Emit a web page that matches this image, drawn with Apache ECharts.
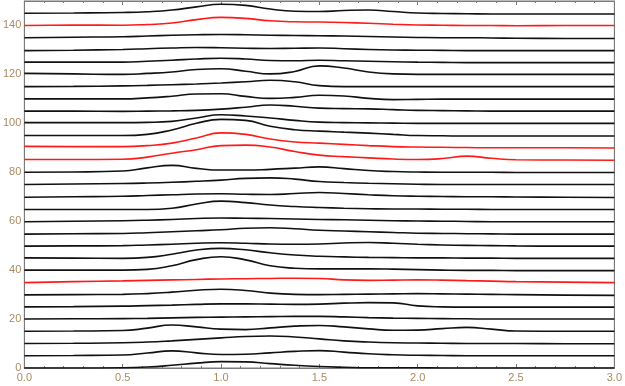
<!DOCTYPE html>
<html>
<head>
<meta charset="utf-8">
<script src="https://cdn.jsdelivr.net/npm/echarts@6/dist/echarts.min.js"></script>
<style>html,body{margin:0;padding:0;background:#fff}#c{width:625px;height:386px}</style>
</head>
<body>
<div id="c"></div>
<script>
const xs = [0, 0.25, 0.5, 0.625, 0.75, 0.875, 1.0, 1.125, 1.25, 1.375, 1.5, 1.625, 1.75, 1.875, 2.0, 2.125, 2.25, 2.375, 2.5, 2.75, 3.0];
const xTicks = [0, 0.5, 1.0, 1.5, 2.0, 2.5, 3.0];
const yTicks = [0, 20, 40, 60, 80, 100, 120, 140];

const y145 = [145, 145.1, 145.3, 145.6, 146.3, 147.6, 148.7, 148.2, 146.7, 145.8, 145.7, 146.1, 146.3, 145.7, 145.1, 144.9, 144.8, 144.7, 144.7, 144.7, 144.7];
const y140 = [140, 140.2, 140.1, 140.4, 141, 142.4, 143.3, 142.9, 141.9, 141.5, 141.4, 141.2, 140.9, 140.5, 140.2, 140.1, 140, 140, 139.9, 140, 140];
const y135 = [135, 135.2, 135.4, 135.7, 136, 136.2, 136.3, 136.2, 136, 135.9, 135.8, 135.7, 135.5, 135.3, 135.1, 135, 135, 134.9, 134.8, 134.7, 134.7];
const y130 = [129.7, 129.9, 130.2, 130.5, 130.8, 131, 130.9, 130.7, 130.6, 130.7, 130.8, 130.5, 130.2, 130, 129.9, 129.8, 129.7, 129.7, 129.7, 129.7, 129.7];
const y125 = [125, 125, 125, 125.4, 125.8, 126.3, 126.6, 126.3, 125.7, 125.6, 125.8, 125.6, 125.4, 125.2, 125, 124.9, 124.8, 124.8, 124.8, 124.8, 124.8];
const y120 = [120.4, 120.2, 120, 120.4, 121, 122, 122.3, 121.3, 120.2, 121.2, 123.5, 122.6, 121, 120.2, 120, 120, 120, 120, 120, 120, 120];
const y115 = [115, 115.1, 115.3, 115.5, 115.8, 116.1, 116.5, 117, 117.6, 117, 115.4, 115, 115, 115, 115, 115, 115, 115, 115, 115, 115];
const y110 = [110, 110, 110, 110.4, 111.1, 112, 112.1, 111, 110.2, 110.6, 111.5, 111.2, 110.2, 109.7, 109.8, 109.9, 109.9, 109.9, 109.9, 109.9, 109.9];
const y105 = [105, 105, 104.9, 105, 105.1, 105.3, 105.8, 106.6, 107.5, 107, 106.2, 106, 105.9, 105.6, 105.3, 105.2, 105.1, 105, 105, 105, 105];
const y100 = [100.3, 100.3, 100.3, 100.4, 100.8, 102.2, 103.5, 103, 102.2, 101.2, 100.5, 100.3, 100.2, 100.1, 100, 100, 100, 100, 100, 100, 100];
const y95 = [95, 95, 95, 95.5, 97.3, 100, 101.6, 101.2, 98.8, 97.4, 96.8, 96.4, 96, 95.5, 95, 94.9, 94.8, 94.8, 94.8, 94.8, 94.8];
const y90 = [90.6, 90.5, 90.5, 90.9, 91.9, 94, 96.1, 95.5, 93.6, 92.4, 91.9, 91.4, 90.9, 90.5, 90.3, 90.2, 90.1, 90, 90, 90, 89.9];
const y85 = [85.2, 85.2, 85.3, 86.2, 87.8, 89.2, 90.9, 91.1, 90.3, 88.5, 87, 86.4, 85.9, 85.4, 85.2, 85.6, 86.6, 85.7, 85.1, 85, 84.9];
const y80 = [80, 80.1, 80.5, 81.8, 82.8, 81.6, 80.9, 80.9, 81.2, 81.7, 82.2, 81.5, 80.7, 80.3, 80.1, 80, 80, 80, 79.9, 79.9, 79.9];
const y75 = [75, 75.2, 75.4, 75.6, 75.9, 76.3, 76.8, 77.5, 77.7, 77.2, 76.2, 75.8, 75.5, 75.3, 75.1, 75, 75, 75, 75, 75, 75];
const y70 = [69.8, 70, 70.2, 70.5, 70.8, 71.1, 71.2, 71, 70.9, 71.3, 71.7, 71.3, 70.8, 70.4, 70.2, 70.1, 70, 70, 69.9, 69.8, 69.7];
const y65 = [64.8, 64.8, 64.8, 64.8, 65.3, 67, 68.2, 67.6, 66.6, 66, 65.6, 65.3, 65.1, 65, 65, 64.9, 64.9, 64.8, 64.8, 64.8, 64.8];
const y60 = [59.8, 60, 60.2, 60.4, 60.7, 61.1, 61.3, 61.2, 61.1, 60.9, 60.7, 60.6, 60.4, 60.2, 60.1, 60, 59.9, 59.8, 59.8, 59.8, 59.8];
const y55 = [54.7, 54.9, 55, 55.3, 55.7, 56.1, 56.5, 57.1, 57.3, 56.9, 56.3, 56, 55.7, 55.4, 55.1, 55, 54.9, 54.8, 54.7, 54.7, 54.7];
const y50 = [49.8, 49.9, 50, 50.3, 50.6, 51, 51.2, 51, 50.7, 50.6, 50.7, 51.1, 51.3, 51, 50.6, 50.3, 50.1, 50, 49.9, 49.8, 49.8];
const y45 = [45, 44.9, 44.8, 45.2, 46.5, 48.2, 48.9, 48.3, 47.1, 46.2, 45.7, 45.4, 45.2, 45.1, 45, 45, 44.9, 44.9, 44.8, 44.8, 44.8];
const y40 = [40, 40, 40, 40.3, 41.8, 44.3, 45.5, 44.2, 41.8, 40.8, 40.5, 40.5, 40.5, 40.4, 40.2, 40, 39.9, 39.9, 39.8, 39.8, 39.8];
const y35 = [34.9, 35.3, 35.6, 35.8, 36, 36.2, 36.4, 36.5, 36.6, 36.7, 36.6, 36, 35.8, 35.9, 36, 35.9, 35.7, 35.5, 35.3, 35.1, 34.9];
const y30 = [29.9, 30, 30.1, 30.4, 31, 31.8, 32.2, 31.7, 30.6, 30.1, 30, 30.1, 30.2, 30.3, 30.4, 30.3, 30.2, 30.1, 30, 29.8, 29.7];
const y25 = [25, 25.1, 25.3, 25.5, 25.7, 26, 26.2, 26.2, 26.1, 26, 26.1, 26.5, 26.7, 26.6, 25.4, 25, 24.9, 24.9, 24.9, 24.9, 24.9];
const y20 = [20, 20.1, 20.2, 20.3, 20.5, 20.7, 20.8, 20.9, 21, 21.1, 21.1, 20.9, 20.6, 20.4, 20.3, 20.2, 20.1, 20, 20, 20, 20];
const y15 = [15, 15.1, 15.3, 16.3, 17.6, 16.8, 15.9, 15.7, 16.4, 17.1, 17.4, 16.8, 16, 15.4, 15.5, 16.1, 16.6, 15.9, 15.1, 15, 15];
const y10 = [10, 10.1, 10.3, 10.6, 11.1, 11.7, 12.3, 12.9, 13.1, 12.7, 11.9, 11.1, 10.6, 10.3, 10.2, 10.1, 10, 10, 10, 9.9, 9.9];
const y5 = [5, 5.1, 5.3, 6.1, 7, 6.2, 5.5, 5.6, 6.2, 6.8, 7.1, 6.5, 5.8, 5.4, 5.2, 5.1, 5, 5, 5, 5, 5];
const y0 = [0, 0, 0.1, 0.4, 1.1, 2, 2.6, 2.5, 1.8, 1.1, 0.6, 0.3, 0.1, 0.1, 0.1, 0, 0, 0, 0, 0, 0];

const curveNames = ['0','5','10','15','20','25','30','35','40','45','50','55','60','65','70','75','80','85','90','95','100','105','110','115','120','125','130','135','140','145'];
const curves = [y0,y5,y10,y15,y20,y25,y30,y35,y40,y45,y50,y55,y60,y65,y70,y75,y80,y85,y90,y95,y100,y105,y110,y115,y120,y125,y130,y135,y140,y145];
const redCurves = ['35','85','90','140'];

const chart = echarts.init(document.getElementById('c'), null, {renderer: 'canvas'});
const labelColor = '#a88a62';
const frameColor = '#7a7a7a';

const series = curves.map((vals, i) => ({
  name: curveNames[i],
  type: 'line',
  data: xs.map((x, j) => [x, vals[j]]),
  showSymbol: false,
  smooth: 0.5,
  silent: true,
  z: redCurves.includes(curveNames[i]) ? 3 : 2,
  lineStyle: {
    width: 1.6,
    color: redCurves.includes(curveNames[i]) ? '#ff1a1a' : '#111111'
  }
}));

const tickCommon = {
  type: 'value', min: 0, max: 3, interval: 0.5,
  axisLine: {show: true, onZero: false, lineStyle: {color: frameColor, width: 1}},
  axisTick: {show: true, inside: true, length: 4, lineStyle: {color: frameColor}},
  minorTick: {show: true, splitNumber: 5, length: 2, lineStyle: {color: frameColor}},
  splitLine: {show: false}, minorSplitLine: {show: false}
};

chart.setOption({
  animation: false,
  backgroundColor: '#ffffff',
  grid: {left: 22, right: 9, top: 1, bottom: 18, show: true, borderColor: frameColor, borderWidth: 1, backgroundColor: 'transparent'},
  xAxis: [
    Object.assign({}, tickCommon, {
      position: 'bottom',
      axisLabel: {show: true, color: labelColor, fontSize: 11, fontFamily: 'Liberation Sans', margin: 4,
        formatter: v => xTicks.includes(v) ? v.toFixed(1) : ''}
    }),
    Object.assign({}, tickCommon, {
      position: 'top',
      axisLabel: {show: false}
    })
  ],
  yAxis: [{
    type: 'value', min: 0, max: 150, interval: 20,
    axisLine: {show: true, onZero: false, lineStyle: {color: frameColor, width: 1}},
    axisTick: {show: false},
    splitLine: {show: false},
    axisLabel: {show: true, color: labelColor, fontSize: 11, fontFamily: 'Liberation Sans', margin: 3,
      showMaxLabel: false,
      formatter: v => yTicks.includes(v) ? String(v) : ''}
  }, {
    type: 'value', min: 0, max: 150, position: 'right',
    axisLine: {show: true, onZero: false, lineStyle: {color: frameColor, width: 1}},
    axisTick: {show: false}, axisLabel: {show: false}, splitLine: {show: false}
  }],
  series: series
});
</script>
</body>
</html>
